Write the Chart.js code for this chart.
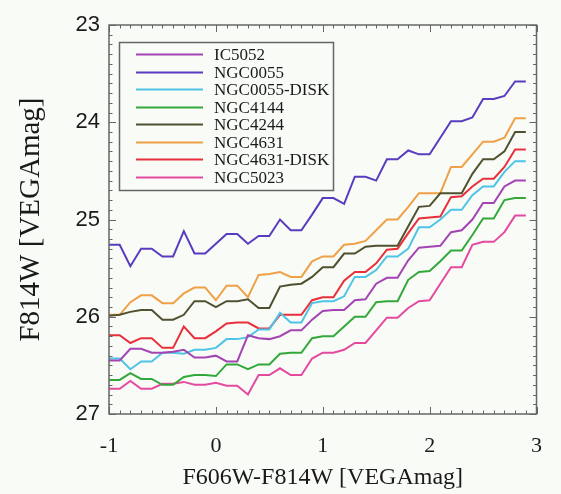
<!DOCTYPE html>
<html>
<head>
<meta charset="utf-8">
<title>F814W vs F606W-F814W</title>
<script src="https://cdn.jsdelivr.net/npm/chart.js@4.4.1/dist/chart.umd.min.js"></script>
<style>
  html, body { margin: 0; padding: 0; background: #f9fbf7; }
  #wrap { width: 561px; height: 494px; }
</style>
</head>
<body>
<div id="wrap"><canvas id="cmdChart" width="561" height="494"></canvas></div>
<script>
"use strict";

// colour bins (F606W-F814W), one point every 0.1 mag
const colourBins = [
  -1.0, -0.9, -0.8, -0.7, -0.6, -0.5, -0.4, -0.3, -0.2, -0.1,
  0.0, 0.1, 0.2, 0.3, 0.4, 0.5, 0.6, 0.7, 0.8, 0.9,
  1.0, 1.1, 1.2, 1.3, 1.4, 1.5, 1.6, 1.7, 1.8, 1.9,
  2.0, 2.1, 2.2, 2.3, 2.4, 2.5, 2.6, 2.7, 2.8, 2.9,
];

// F814W magnitude per galaxy
const IC5052 = [
  26.45, 26.45, 26.33, 26.33, 26.37, 26.37, 26.36, 26.34, 26.42, 26.42,
  26.40, 26.46, 26.46, 26.19, 26.22, 26.23, 26.20, 26.14, 26.14, 26.03,
  25.94, 25.93, 25.93, 25.83, 25.82, 25.66, 25.60, 25.60, 25.42, 25.29,
  25.28, 25.27, 25.13, 25.11, 25.00, 24.83, 24.83, 24.66, 24.60, 24.60,
];
const NGC0055 = [
  25.26, 25.26, 25.48, 25.30, 25.30, 25.38, 25.38, 25.12, 25.35, 25.35,
  25.25, 25.15, 25.15, 25.25, 25.17, 25.17, 25.00, 25.11, 25.11, 24.95,
  24.78, 24.78, 24.84, 24.56, 24.56, 24.60, 24.38, 24.38, 24.29, 24.33,
  24.33, 24.16, 23.99, 23.99, 23.95, 23.76, 23.76, 23.73, 23.58, 23.58,
];
const NGC0055_DISK = [
  26.43, 26.43, 26.54, 26.46, 26.46, 26.37, 26.37, 26.38, 26.34, 26.34,
  26.32, 26.23, 26.23, 26.21, 26.13, 26.13, 25.96, 26.06, 26.06, 25.86,
  25.84, 25.84, 25.79, 25.59, 25.59, 25.52, 25.38, 25.38, 25.30, 25.08,
  25.08, 25.00, 24.90, 24.90, 24.75, 24.66, 24.66, 24.51, 24.40, 24.40,
];
const NGC4144 = [
  26.65, 26.65, 26.58, 26.64, 26.64, 26.70, 26.70, 26.62, 26.60, 26.60,
  26.61, 26.49, 26.49, 26.54, 26.49, 26.49, 26.38, 26.37, 26.37, 26.22,
  26.20, 26.20, 26.10, 26.00, 26.00, 25.85, 25.84, 25.84, 25.62, 25.54,
  25.53, 25.43, 25.32, 25.32, 25.16, 24.99, 24.99, 24.80, 24.78, 24.78,
];
const NGC4244 = [
  25.99, 25.98, 25.95, 25.93, 25.93, 26.03, 26.03, 25.98, 25.84, 25.84,
  25.90, 25.84, 25.84, 25.82, 25.91, 25.91, 25.69, 25.67, 25.66, 25.59,
  25.49, 25.49, 25.35, 25.35, 25.28, 25.27, 25.27, 25.27, 25.07, 24.87,
  24.86, 24.73, 24.73, 24.73, 24.53, 24.38, 24.38, 24.30, 24.10, 24.10,
];
const NGC4631 = [
  25.98, 25.98, 25.85, 25.78, 25.78, 25.86, 25.86, 25.76, 25.70, 25.70,
  25.83, 25.68, 25.68, 25.80, 25.57, 25.56, 25.54, 25.59, 25.59, 25.43,
  25.38, 25.38, 25.26, 25.25, 25.22, 25.11, 25.00, 25.00, 24.87, 24.73,
  24.73, 24.73, 24.46, 24.46, 24.33, 24.20, 24.20, 24.16, 23.96, 23.96,
];
const NGC4631_DISK = [
  26.19, 26.19, 26.27, 26.22, 26.22, 26.32, 26.32, 26.10, 26.22, 26.22,
  26.15, 26.07, 26.06, 26.06, 26.12, 26.12, 25.98, 25.98, 25.98, 25.83,
  25.80, 25.80, 25.63, 25.54, 25.54, 25.45, 25.31, 25.30, 25.14, 24.99,
  24.98, 24.97, 24.77, 24.76, 24.66, 24.58, 24.58, 24.46, 24.28, 24.28,
];
const NGC5023 = [
  26.74, 26.74, 26.66, 26.74, 26.74, 26.69, 26.69, 26.67, 26.70, 26.70,
  26.68, 26.71, 26.71, 26.80, 26.60, 26.60, 26.53, 26.60, 26.60, 26.43,
  26.37, 26.37, 26.34, 26.27, 26.27, 26.14, 26.01, 26.01, 25.91, 25.84,
  25.83, 25.66, 25.49, 25.49, 25.26, 25.23, 25.23, 25.13, 24.96, 24.96,
];

const galaxyNames = [
  "IC5052", "NGC0055", "NGC0055-DISK", "NGC4144",
  "NGC4244", "NGC4631", "NGC4631-DISK", "NGC5023",
];
const galaxySeries = [
  IC5052, NGC0055, NGC0055_DISK, NGC4144,
  NGC4244, NGC4631, NGC4631_DISK, NGC5023,
];
const lineColors = [
  "#a443b4", "#5a3cc0", "#4ec4e6", "#33a83a",
  "#4f5130", "#f0a046", "#e8303c", "#e44aa0",
];

const xTicks = [-1, 0, 1, 2, 3];
const yTicks = [23, 24, 25, 26, 27];

const BG = "#f9fbf7";
const FRAME = "#666666";

const datasets = galaxySeries.map((mags, i) => ({
  label: galaxyNames[i],
  data: colourBins.map((c, k) => ({ x: c, y: mags[k] })),
  borderColor: lineColors[i],
  backgroundColor: lineColors[i],
  borderWidth: 2,
  pointRadius: 0,
  tension: 0,
  fill: false,
}));

// page background under everything
const paintBackground = {
  id: "paintBackground",
  beforeDraw(chart) {
    const { ctx, width, height } = chart;
    ctx.save();
    ctx.fillStyle = BG;
    ctx.fillRect(0, 0, width, height);
    ctx.restore();
  },
};

// box around the plot with inward major/minor ticks on all four sides
const frameTicks = {
  id: "frameTicks",
  afterDatasetsDraw(chart) {
    const { ctx, chartArea: a, scales } = chart;
    const x = scales.x;
    const y = scales.y;
    ctx.save();
    ctx.strokeStyle = FRAME;
    ctx.lineWidth = 1;
    ctx.beginPath();
    for (let k = 0; k <= 40; k++) {
      const len = k % 10 === 0 ? 7 : 3.5;
      const px = Math.round(x.getPixelForValue(-1 + k / 10)) + 0.5;
      ctx.moveTo(px, a.bottom);
      ctx.lineTo(px, a.bottom - len);
      ctx.moveTo(px, a.top);
      ctx.lineTo(px, a.top + len);
      const py = Math.round(y.getPixelForValue(23 + k / 10)) + 0.5;
      ctx.moveTo(a.left, py);
      ctx.lineTo(a.left + len, py);
      ctx.moveTo(a.right, py);
      ctx.lineTo(a.right - len, py);
    }
    ctx.stroke();
    ctx.lineWidth = 1.5;
    ctx.strokeRect(a.left, a.top, a.right - a.left, a.bottom - a.top);
    ctx.restore();
  },
};

// framed legend in the upper left of the plot
const boxLegend = {
  id: "boxLegend",
  afterDraw(chart) {
    const ctx = chart.ctx;
    const left = 119.5, top = 42.5, w = 214, h = 148;
    const rowTop = 54.3, rowStep = 17.48;
    ctx.save();
    ctx.strokeStyle = FRAME;
    ctx.lineWidth = 1.5;
    ctx.strokeRect(left, top, w, h);
    ctx.font = '17px "Liberation Serif", "DejaVu Serif", serif';
    ctx.textBaseline = "middle";
    ctx.fillStyle = "#1a1a1a";
    chart.data.datasets.forEach((ds, i) => {
      const ry = Math.round(rowTop + i * rowStep) + 0.5;
      ctx.strokeStyle = ds.borderColor;
      ctx.lineWidth = 2;
      ctx.beginPath();
      ctx.moveTo(136, ry);
      ctx.lineTo(203, ry);
      ctx.stroke();
      ctx.fillText(ds.label, 214, ry + 1);
    });
    ctx.restore();
  },
};

const config = {
  type: "line",
  data: { datasets: datasets },
  options: {
    responsive: false,
    animation: false,
    devicePixelRatio: 1,
    layout: {
      padding: { left: 0, right: 23, top: 25, bottom: 0 },
    },
    plugins: {
      legend: { display: false },
      tooltip: { enabled: false },
    },
    scales: {
      x: {
        type: "linear",
        min: -1,
        max: 3,
        afterFit: (s) => { s.height = 80; },
        afterBuildTicks: (s) => { s.ticks = xTicks.map((v) => ({ value: v })); },
        grid: { display: false, drawTicks: false },
        border: { display: false },
        ticks: {
          padding: 19,
          color: "#1a1a1a",
          font: { family: '"Liberation Serif", serif', size: 22 },
          maxRotation: 0,
        },
        title: {
          display: true,
          text: "F606W-F814W [VEGAmag]",
          color: "#1a1a1a",
          font: { family: '"Liberation Serif", serif', size: 24 },
          padding: { top: 0, bottom: 2 },
        },
      },
      y: {
        type: "linear",
        reverse: true,
        min: 23,
        max: 27,
        afterFit: (s) => { s.width = 109; },
        afterBuildTicks: (s) => { s.ticks = yTicks.map((v) => ({ value: v })); },
        grid: { display: false, drawTicks: false },
        border: { display: false },
        ticks: {
          padding: 9,
          color: "#1a1a1a",
          font: { family: '"Liberation Sans", sans-serif', size: 22 },
        },
        title: {
          display: true,
          text: "F814W [VEGAmag]",
          color: "#1a1a1a",
          font: { family: '"Liberation Serif", serif', size: 29 },
          padding: { top: 14, bottom: 0 },
        },
      },
    },
  },
  plugins: [paintBackground, frameTicks, boxLegend],
};

const cmdChart = new Chart(document.getElementById("cmdChart"), config);
</script>
</body>
</html>
